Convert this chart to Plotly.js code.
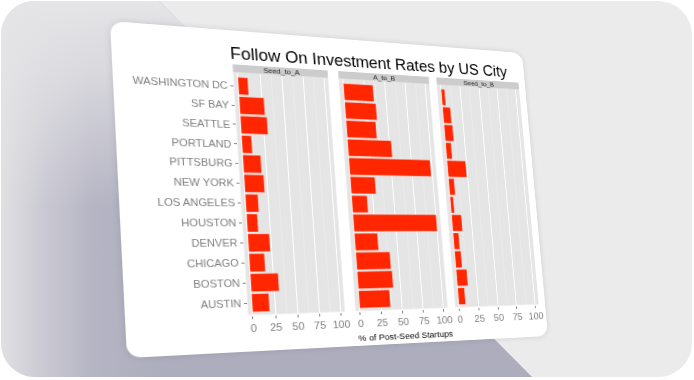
<!DOCTYPE html>
<html>
<head>
<meta charset="utf-8">
<script src="https://cdn.plot.ly/plotly-3.0.1.min.js"></script>
<style>
  html, body { margin:0; padding:0; width:694px; height:380px; overflow:hidden; background:#ffffff; }
  #frame { position:absolute; left:1px; top:1px; width:691px; height:376px; border-radius:34px; background:#ebebeb; overflow:hidden; }
  #shade { position:absolute; left:0; top:0; width:691px; height:376px;
    clip-path: polygon(0 0, 158px 0, 535px 380px, 0 380px);
    background:
      linear-gradient(to bottom, rgba(229,229,231,1) 0%, rgba(229,229,231,0.75) 18%, rgba(229,229,231,0) 55%),
      linear-gradient(to right, #e0e0e2 0px, #c9c8d2 45px, #b6b5c4 90px, #aeadbd 160px, #aeadbd 100%);
  }
  #card { position:absolute; left:0; top:0; width:440px; height:340px; background:#ffffff; border-radius:13px;
    transform-origin:0 0; box-shadow:0 0 6px rgba(80,80,100,0.18); overflow:hidden; }
  #chart { position:absolute; left:0; top:0; width:440px; height:340px; }
</style>
</head>
<body>
<div id="frame"><div id="shade"></div></div>
<div id="card"><div id="chart"></div></div>
<script>
// ---- data (bottom to top) ----
var cities = ["AUSTIN", "BOSTON", "CHICAGO", "DENVER", "HOUSTON", "LOS ANGELES",
              "NEW YORK", "PITTSBURG", "PORTLAND", "SEATTLE", "SF BAY", "WASHINGTON DC"];
var seedToA = [19, 31, 17, 24, 12, 14, 22, 20, 11, 30, 28, 11];
var aToB    = [36, 41, 40, 27, 100, 18, 29, 98, 52, 35, 37, 35];
var seedToB = [8.5, 13.5, 8, 7, 12.5, 4, 7, 24, 7, 11, 10, 4.5];
var facetNames = ["Seed_to_A", "A_to_B", "Seed_to_B"];
var tickVals = [0, 25, 50, 75, 100];
var tickText = ["0", "25", "50", "75", "100"];

// ---- perspective placement of the card ----
var W = 440, H = 340;
var quad = [[110, 21], [522, 53], [548, 336], [127, 358]]; // TL, TR, BR, BL
(function () {
  var x0 = quad[0][0], y0 = quad[0][1], x1 = quad[1][0], y1 = quad[1][1];
  var x2 = quad[2][0], y2 = quad[2][1], x3 = quad[3][0], y3 = quad[3][1];
  var dx1 = x1 - x2, dx2 = x3 - x2, dx3 = x0 - x1 + x2 - x3;
  var dy1 = y1 - y2, dy2 = y3 - y2, dy3 = y0 - y1 + y2 - y3;
  var den = dx1 * dy2 - dx2 * dy1;
  var g = (dx3 * dy2 - dx2 * dy3) / den;
  var h = (dx1 * dy3 - dx3 * dy1) / den;
  var a = x1 - x0 + g * x1, b = x3 - x0 + h * x3, c = x0;
  var d = y1 - y0 + g * y1, e = y3 - y0 + h * y3, f = y0;
  var m = [a / W, d / W, 0, g / W, b / H, e / H, 0, h / H, 0, 0, 1, 0, c, f, 0, 1];
  document.getElementById('card').style.transform = 'matrix3d(' + m.join(',') + ')';
})();

// ---- chart ----
var font = "Liberation Sans, Arial, sans-serif";
var red = "#ff2600";
var domains = [[0.258, 0.479], [0.505, 0.735], [0.755, 0.982]];
var series = [seedToA, aToB, seedToB];
var yDom = [0.110, 0.866];

var traces = series.map(function (vals, i) {
  return {
    type: "bar", orientation: "h",
    x: vals, y: cities,
    xaxis: i === 0 ? "x" : "x" + (i + 1),
    yaxis: i === 0 ? "y" : "y" + (i + 1),
    width: 0.9,
    marker: { color: red, line: { color: "rgba(255,255,255,0.55)", width: 0.6 } },
    hoverinfo: "none"
  };
});

function xAxis(i) {
  return {
    domain: domains[i], anchor: i === 0 ? "y" : "y" + (i + 1),
    range: [-5, 105], tickvals: tickVals, ticktext: tickText,
    ticks: "outside", ticklen: 3, tickwidth: 1, tickcolor: "#7f7f7f",
    tickfont: { family: font, size: 11, color: "#7f7f7f" },
    showgrid: true, gridcolor: "#ffffff", gridwidth: 1,
    minor: { tick0: 0, dtick: 12.5, showgrid: true, gridcolor: "#f2f2f2", gridwidth: 0.5, ticks: "" },
    zeroline: false, showline: false, fixedrange: true
  };
}
function yAxis(i) {
  return {
    domain: yDom, anchor: i === 0 ? "x" : "x" + (i + 1),
    type: "category", categoryorder: "array", categoryarray: cities,
    range: [-0.6, cities.length - 0.3],
    showticklabels: i === 0,
    ticks: i === 0 ? "outside" : "", ticklen: 3, tickwidth: 1, tickcolor: "#7f7f7f",
    tickfont: { family: font, size: 10.5, color: "#7f7f7f" },
    showgrid: false, zeroline: false, showline: false, fixedrange: true
  };
}

var shapes = [], annotations = [];
domains.forEach(function (dm, i) {
  var xr = (i === 0 ? "x" : "x" + (i + 1)) + " domain";
  shapes.push({ type: "rect", xref: xr, yref: "paper", x0: 0, x1: 1, y0: yDom[1], y1: yDom[1] + 0.025,
                fillcolor: "#cccccc", line: { width: 0 }, layer: "below" });
  annotations.push({ xref: xr, yref: "paper", x: 0.5, y: yDom[1] + 0.0125, text: facetNames[i], showarrow: false,
                     xanchor: "center", yanchor: "middle", font: { family: font, size: 7.5, color: "#1a1a1a" } });
});
annotations.push({ xref: "paper", yref: "paper", x: 0.625, y: 0.026, text: "% of Post-Seed Startups",
                   showarrow: false, xanchor: "center", yanchor: "middle",
                   font: { family: font, size: 9.5, color: "#000000" } });

var layout = {
  width: W, height: H,
  margin: { l: 0, r: 0, t: 0, b: 0 },
  paper_bgcolor: "rgba(0,0,0,0)", plot_bgcolor: "#e5e5e5",
  showlegend: false, bargap: 0.1,
  title: { text: "Follow On Investment Rates by US City", x: 0.603, y: 0.927, xanchor: "center", yanchor: "middle",
           font: { family: font, size: 17.5, color: "#000000" } },
  xaxis: xAxis(0), xaxis2: xAxis(1), xaxis3: xAxis(2),
  yaxis: yAxis(0), yaxis2: yAxis(1), yaxis3: yAxis(2),
  shapes: shapes, annotations: annotations
};

Plotly.newPlot("chart", traces, layout, { staticPlot: true, displayModeBar: false });
</script>
</body>
</html>
